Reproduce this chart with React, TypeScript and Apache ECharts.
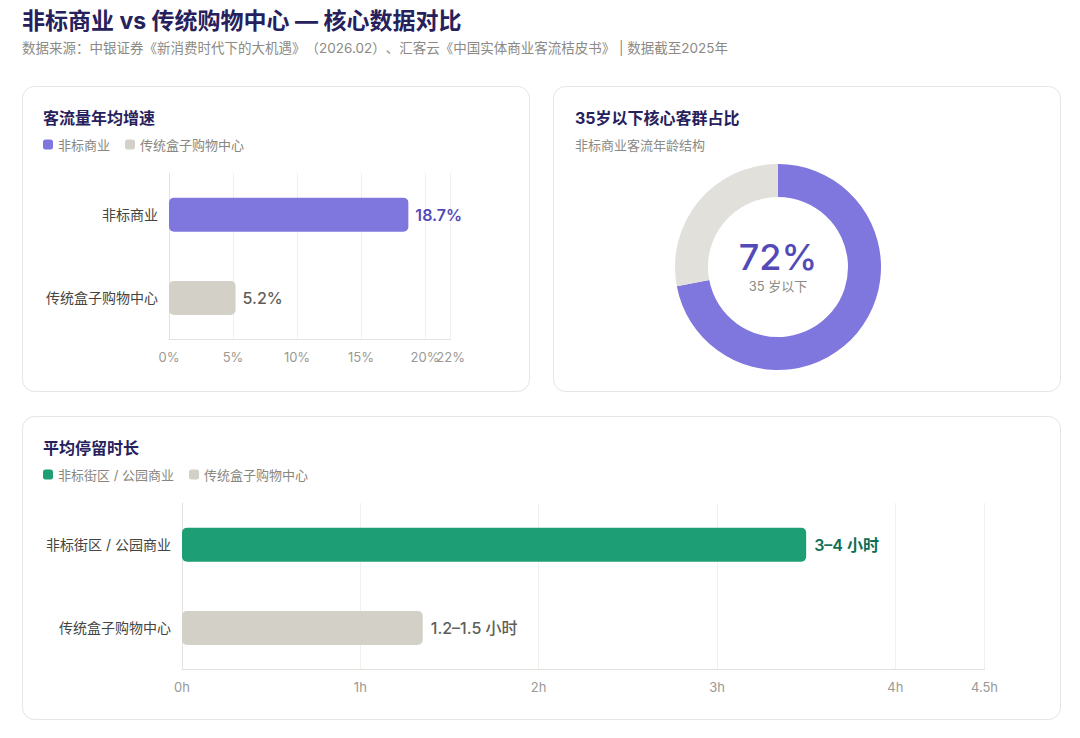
import React, { useEffect, useRef } from "react";
import * as echarts from "echarts";

const FONT = 'Inter, "Noto Sans CJK SC", "Noto Sans", sans-serif';

const mainTitle = "非标商业 vs 传统购物中心 — 核心数据对比";
const sourceNote =
  "数据来源：中银证券《新消费时代下的大机遇》（2026.02）、汇客云《中国实体商业客流桔皮书》 | 数据截至2025年";

// Card 1: footfall growth
const growthTitle = "客流量年均增速";
const growthCategories = ["非标商业", "传统盒子购物中心"];
const growthValues = [18.7, 5.2];
const growthMax = 22;
const growthInterval = 5;

// Card 2: age share
const ageTitle = "35岁以下核心客群占比";
const ageSubtitle = "非标商业客流年龄结构";
const ageNames = ["35 岁以下", "35 岁及以上"];
const ageShare = [72, 28];

// Card 3: dwell time
const dwellTitle = "平均停留时长";
const dwellCategories = ["非标街区 / 公园商业", "传统盒子购物中心"];
const dwellValues = [3.5, 1.35];
const dwellLabels = ["3–4 小时", "1.2–1.5 小时"];
const dwellMax = 4.5;
const dwellInterval = 1;

const PURPLE = "#7f77dd";
const PURPLE_DARK = "#534ab7";
const GRAY_BAR = "#d3d1c7";
const GRAY_RING = "#e1e0db";
const GREEN = "#1d9e75";
const GREEN_DARK = "#0f6e56";
const TITLE_C = "#26215c";

export default function App() {
  const ref = useRef<HTMLDivElement>(null);

  useEffect(() => {
    if (!ref.current) return;
    const chart = echarts.init(ref.current, undefined, { renderer: "svg" });

    const labelStyle = {
      fontSize: 13,
      color: "#9a9994",
      margin: 11,
      fontFamily: FONT,
    };

    const axisCommon = (idx: number, max: number, interval: number, fmt: (v: number) => string) => ({
      type: "value" as const,
      gridIndex: idx,
      min: 0,
      max,
      interval,
      axisLine: { show: true, lineStyle: { color: "#e3e2dd", width: 1 } },
      axisTick: { show: false },
      splitLine: { show: true, lineStyle: { color: "#f1f0ec", width: 1 } },
      axisLabel: { ...labelStyle, formatter: fmt },
    });

    // overlay axis that only carries the max label (so it can sit next to the last regular tick label)
    const maxLabelAxis = (idx: number, max: number, interval: number, fmt: (v: number) => string) => ({
      type: "value" as const,
      gridIndex: idx,
      position: "bottom",
      min: 0,
      max,
      interval,
      axisLine: { show: false },
      axisTick: { show: false },
      splitLine: { show: false },
      axisLabel: {
        ...labelStyle,
        showMaxLabel: true,
        showMinLabel: false,
        formatter: (v: number) => (v === max ? fmt(v) : ""),
      },
    });

    const yCommon = (idx: number, cats: string[]) => ({
      type: "category" as const,
      gridIndex: idx,
      inverse: true,
      data: cats,
      axisLine: { show: true, lineStyle: { color: "#e3e2dd" } },
      axisTick: { show: false },
      axisLabel: { fontSize: 14, color: "#444441", margin: 11, fontFamily: FONT },
    });

    const card = (x: number, y: number, w: number, h: number) => ({
      type: "rect",
      z: -10,
      silent: true,
      shape: { x: x + 0.5, y: y + 0.5, width: w, height: h, r: 12 },
      style: { fill: "#ffffff", stroke: "#e6e5e0", lineWidth: 1 },
    });

    const text = (
      x: number,
      y: number,
      t: string,
      size: number,
      color: string,
      weight: string | number = "normal",
      align: string = "left",
      family: string = FONT
    ) => ({
      type: "text",
      x,
      y,
      z: 50,
      silent: true,
      style: {
        text: t,
        fontSize: size,
        fontWeight: weight,
        fill: color,
        fontFamily: family,
        align,
        verticalAlign: "middle",
      },
    });

    const pctFmt = (v: number) => `${v}%`;
    const hFmt = (v: number) => `${v}h`;

    const option: any = {
      animation: false,
      backgroundColor: "#ffffff",
      textStyle: { fontFamily: FONT },
      graphic: [
        card(22, 86, 507, 305),
        card(553, 86, 507, 305),
        card(22, 416, 1038, 303),
        text(22, 21, mainTitle, 23, TITLE_C, "bold"),
        text(22, 48, sourceNote, 13.5, "#8b8a84"),
        text(43, 118, growthTitle, 16, TITLE_C, "bold"),
        text(575, 118, ageTitle, 16, TITLE_C, "bold"),
        text(575, 145, ageSubtitle, 13, "#8b8a84"),
        text(43, 448, dwellTitle, 16, TITLE_C, "bold"),
        text(778, 257, `${ageShare[0]}%`, 36, PURPLE_DARK, 500, "center"),
        text(778, 286, ageNames[0], 13, "#8b8a84", "normal", "center"),
      ],
      legend: [
        {
          left: 43,
          top: 138,
          padding: 0,
          itemWidth: 10,
          itemHeight: 10,
          itemGap: 15,
          icon: "roundRect",
          selectedMode: false,
          textStyle: { fontSize: 13, color: "#888780", fontFamily: FONT },
          data: [
            { name: growthCategories[0], itemStyle: { color: PURPLE } },
            { name: growthCategories[1], itemStyle: { color: GRAY_BAR } },
          ],
        },
        {
          left: 43,
          top: 468,
          padding: 0,
          itemWidth: 10,
          itemHeight: 10,
          itemGap: 15,
          icon: "roundRect",
          selectedMode: false,
          textStyle: { fontSize: 13, color: "#888780", fontFamily: FONT },
          data: [
            { name: dwellCategories[0], itemStyle: { color: GREEN } },
            { name: dwellCategories[1], itemStyle: { color: GRAY_BAR } },
          ],
        },
      ],
      grid: [
        { left: 169, right: 1080 - 450.6, top: 173, bottom: 738 - 339.5 },
        { left: 182, right: 1080 - 984.5, top: 503, bottom: 738 - 669.5 },
      ],
      xAxis: [
        { ...axisCommon(0, growthMax, growthInterval, pctFmt), axisLabel: { ...labelStyle, formatter: pctFmt, showMaxLabel: false } },
        axisCommon(1, dwellMax, dwellInterval, hFmt),
        maxLabelAxis(0, growthMax, growthInterval, pctFmt),
      ],
      yAxis: [yCommon(0, growthCategories), yCommon(1, dwellCategories)],
      series: [
        {
          type: "bar",
          name: growthCategories[0],
          xAxisIndex: 0,
          yAxisIndex: 0,
          stack: "g",
          barWidth: 34,
          data: [growthValues[0], "-"],
          itemStyle: { color: PURPLE, borderRadius: 5 },
          label: {
            show: true,
            position: "right",
            distance: 7,
            formatter: (p: any) => `${p.value}%`,
            fontSize: 16,
            fontWeight: 600,
            color: PURPLE_DARK,
            fontFamily: FONT,
          },
          emphasis: { disabled: true },
        },
        {
          type: "bar",
          name: growthCategories[1],
          xAxisIndex: 0,
          yAxisIndex: 0,
          stack: "g",
          barWidth: 34,
          data: ["-", growthValues[1]],
          itemStyle: { color: GRAY_BAR, borderRadius: 5 },
          label: {
            show: true,
            position: "right",
            distance: 7,
            formatter: (p: any) => `${p.value}%`,
            fontSize: 16,
            fontWeight: 500,
            color: "#5f5e5a",
            fontFamily: FONT,
          },
          emphasis: { disabled: true },
        },
        {
          type: "bar",
          name: dwellCategories[0],
          xAxisIndex: 1,
          yAxisIndex: 1,
          stack: "d",
          barWidth: 34,
          data: [dwellValues[0], "-"],
          itemStyle: { color: GREEN, borderRadius: 5 },
          label: {
            show: true,
            position: "right",
            distance: 8,
            formatter: () => dwellLabels[0],
            fontSize: 16,
            fontWeight: 600,
            color: GREEN_DARK,
            fontFamily: FONT,
          },
          emphasis: { disabled: true },
        },
        {
          type: "bar",
          name: dwellCategories[1],
          xAxisIndex: 1,
          yAxisIndex: 1,
          stack: "d",
          barWidth: 34,
          data: ["-", dwellValues[1]],
          itemStyle: { color: GRAY_BAR, borderRadius: 5 },
          label: {
            show: true,
            position: "right",
            distance: 8,
            formatter: () => dwellLabels[1],
            fontSize: 16,
            fontWeight: 500,
            color: "#5f5e5a",
            fontFamily: FONT,
          },
          emphasis: { disabled: true },
        },
        {
          type: "pie",
          name: ageTitle,
          center: [778, 267],
          radius: [70, 103],
          startAngle: 90,
          clockwise: true,
          label: { show: false },
          labelLine: { show: false },
          emphasis: { disabled: true },
          silent: true,
          data: [
            { name: ageNames[0], value: ageShare[0], itemStyle: { color: PURPLE } },
            { name: ageNames[1], value: ageShare[1], itemStyle: { color: GRAY_RING } },
          ],
        },
      ],
    };

    chart.setOption(option);
    return () => chart.dispose();
  }, []);

  return (
    <div
      ref={ref}
      style={
        {
          position: "fixed",
          left: 0,
          top: 0,
          width: 1080,
          height: 738,
          background: "#fff",
          textSpacingTrim: "space-all",
        } as any
      }
    />
  );
}
